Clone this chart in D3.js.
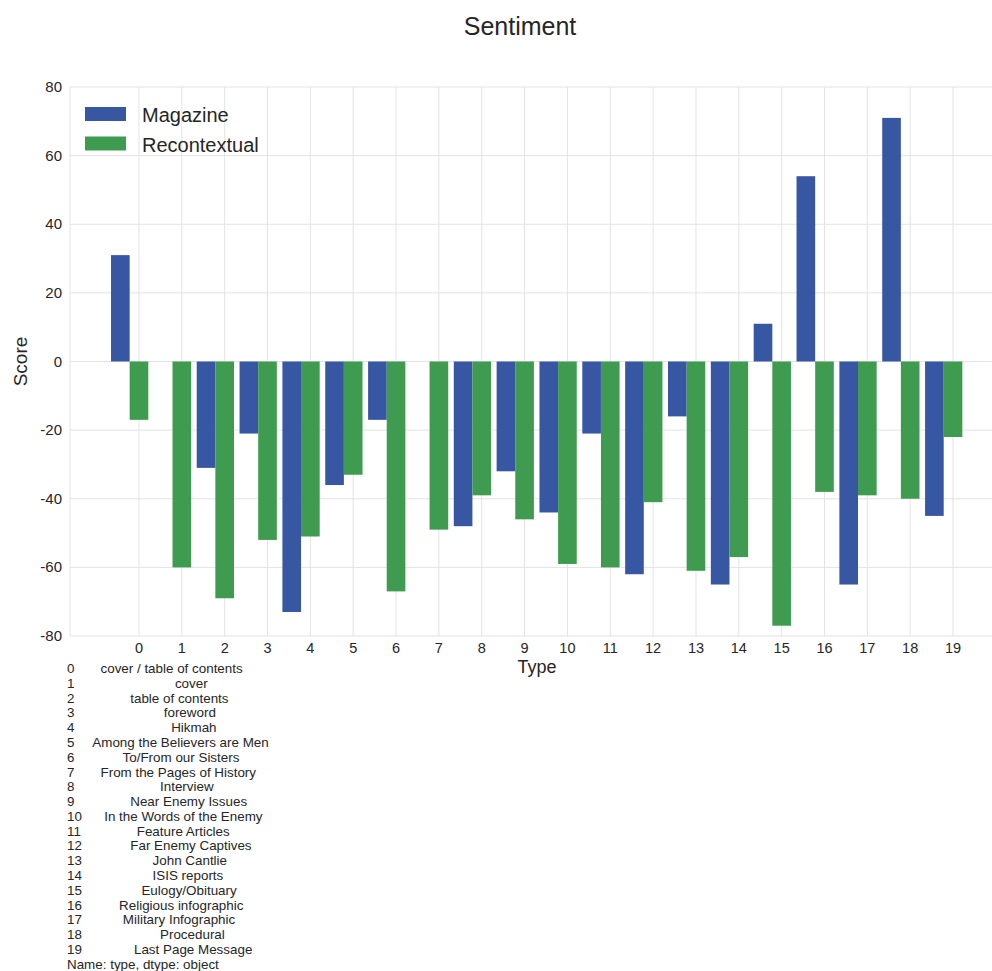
<!DOCTYPE html>
<html>
<head>
<meta charset="utf-8">
<script src="https://cdn.jsdelivr.net/npm/d3@7"></script>
<style>
  html, body { margin: 0; padding: 0; background: #fff; }
  svg { display: block; font-family: 'Liberation Sans', Arial, sans-serif; }
</style>
</head>
<body>
<svg id="chart" width="992" height="971"></svg>
<script>
// data
const types = d3.range(20)
const typeNames = [
  'cover / table of contents', 'cover', 'table of contents', 'foreword', 'Hikmah',
  'Among the Believers are Men', 'To/From our Sisters', 'From the Pages of History',
  'Interview', 'Near Enemy Issues', 'In the Words of the Enemy', 'Feature Articles',
  'Far Enemy Captives', 'John Cantlie', 'ISIS reports', 'Eulogy/Obituary',
  'Religious infographic', 'Military Infographic', 'Procedural', 'Last Page Message'
]
const magazine = [31, null, -31, -21, -73, -36, -17, null, -48, -32,
  -44, -21, -62, -16, -65, 11, 54, -65, 71, -45]
const recontextual = [-17, -60, -69, -52, -51, -33, -67, -49, -39, -46,
  -59, -60, -41, -61, -57, -77, -38, -39, -40, -22]
const yTicks = [-80, -60, -40, -20, 0, 20, 40, 60, 80]

const series = [
  { name: 'Magazine', values: magazine, color: '#3857a3', offset: -1 },
  { name: 'Recontextual', values: recontextual, color: '#3f9b50', offset: 0 },
]

const textColor = '#262626'
const gridColor = '#e3e3e3'
const barWidth = 0.435

const svg = d3.select('#chart')
const plot = { left: 70, right: 1022, top: 87, bottom: 636 }

// x in type units: tick sits on the Recontextual bar
const x = d3.scaleLinear()
  .domain([-1.61, 20.61])
  .range([plot.left, plot.right])
const y = d3.scaleLinear()
  .domain([-80, 80])
  .range([plot.bottom, plot.top])

// grid
const grid = svg.append('g').attr('id', 'grid')
grid.selectAll('line.h')
  .data(yTicks)
  .join('line')
  .attr('class', 'h')
  .attr('x1', plot.left).attr('x2', plot.right)
  .attr('y1', (d) => y(d)).attr('y2', (d) => y(d))
  .attr('stroke', gridColor)
grid.selectAll('line.v')
  .data(types)
  .join('line')
  .attr('class', 'v')
  .attr('x1', (d) => x(d)).attr('x2', (d) => x(d))
  .attr('y1', plot.top).attr('y2', plot.bottom)
  .attr('stroke', gridColor)
grid.append('line')
  .attr('x1', plot.left).attr('x2', plot.left)
  .attr('y1', plot.top).attr('y2', plot.bottom)
  .attr('stroke', gridColor)

// bars
const bars = svg.append('g').attr('id', 'bars')
series.forEach((s) => {
  bars.append('g')
    .attr('fill', s.color)
    .selectAll('rect')
    .data(s.values.map((v, i) => ({ i, v })).filter((d) => d.v !== null))
    .join('rect')
    .attr('x', (d) => x(d.i + s.offset * barWidth - barWidth / 2))
    .attr('width', x(barWidth) - x(0))
    .attr('y', (d) => y(Math.max(0, d.v)))
    .attr('height', (d) => Math.abs(y(d.v) - y(0)))
})

// y axis labels
svg.append('g')
  .selectAll('text')
  .data(yTicks)
  .join('text')
  .attr('x', 62)
  .attr('y', (d) => y(d) + 5)
  .attr('text-anchor', 'end')
  .attr('font-size', 15)
  .attr('fill', textColor)
  .text((d) => d)

// x axis labels
svg.append('g')
  .selectAll('text')
  .data(types)
  .join('text')
  .attr('x', (d) => x(d))
  .attr('y', 653)
  .attr('text-anchor', 'middle')
  .attr('font-size', 14.5)
  .attr('fill', textColor)
  .text((d) => d)

// axis titles
svg.append('text')
  .attr('x', 537).attr('y', 673)
  .attr('text-anchor', 'middle')
  .attr('font-size', 18)
  .attr('fill', textColor)
  .text('Type')

svg.append('text')
  .attr('transform', 'translate(27,' + (plot.top + plot.bottom) / 2 + ') rotate(-90)')
  .attr('text-anchor', 'middle')
  .attr('font-size', 19)
  .attr('fill', textColor)
  .text('Score')

// title
svg.append('text')
  .attr('x', 520).attr('y', 35)
  .attr('text-anchor', 'middle')
  .attr('font-size', 25)
  .attr('fill', textColor)
  .text('Sentiment')

// legend
const legend = svg.append('g').attr('id', 'legend')
series.forEach((s, i) => {
  legend.append('rect')
    .attr('x', 85).attr('y', 107 + i * 29.5)
    .attr('width', 41).attr('height', 14)
    .attr('fill', s.color)
  legend.append('text')
    .attr('x', 142).attr('y', 122 + i * 29.5)
    .attr('font-size', 20)
    .attr('fill', textColor)
    .text(s.name)
})

// printed pandas series below the chart
const nameWidth = d3.max(typeNames, (d) => d.length)
const lines = typeNames.map((n, i) =>
  String(i).padEnd(2) + '    ' + n.padStart(nameWidth))
lines.push('Name: type, dtype: object')

svg.append('g')
  .attr('id', 'table')
  .selectAll('text')
  .data(lines)
  .join('text')
  .attr('x', 67)
  .attr('y', (d, i) => 673 + i * 14.79)
  .attr('font-size', 13.4)
  .attr('fill', textColor)
  .style('white-space', 'pre')
  .attr('xml:space', 'preserve')
  .text((d) => d)
</script>
</body>
</html>
